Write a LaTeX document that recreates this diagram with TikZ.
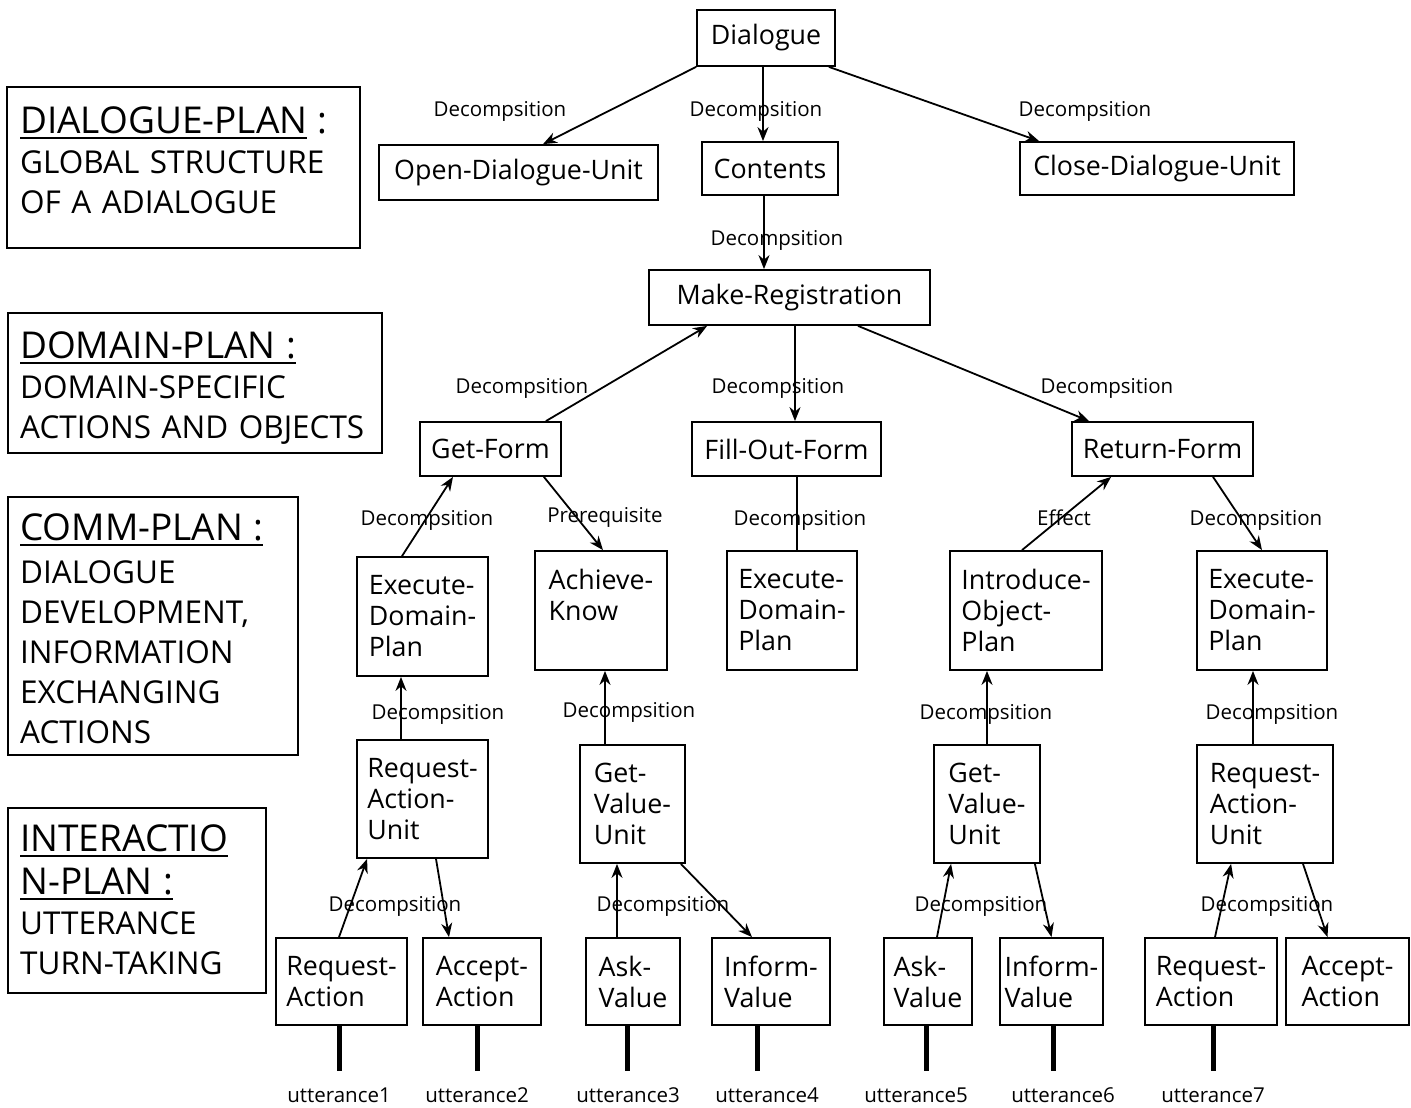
\documentclass[tikz,border=0pt]{standalone}
\usepackage{fontspec}
\setmainfont{Open Sans}
\usetikzlibrary{arrows.meta}
% underlined heading word with a heavier rule
\newcommand\planul[1]{\leavevmode\setbox0=\hbox{#1}\rlap{\rule[-6pt]{\wd0}{1.8pt}}\box0\relax}
\newcommand\plantitle[1]{{\fontsize{37}{40}\selectfont #1}}
\begin{document}
\begin{tikzpicture}[x=1pt,y=-1pt,
  box/.style={draw, line width=1.8pt, inner sep=0pt, align=left,
    font=\fontsize{26.8}{31}\selectfont},
  panel/.style={draw, line width=1.8pt, inner sep=0pt},
  ptext/.style={anchor=base west, inner sep=0pt, text width=400pt, align=left,
    font=\fontsize{31.5}{40}\selectfont},
  lbl/.style={anchor=base, inner sep=0pt, font=\fontsize{20.5}{24}\selectfont},
  arr/.style={line width=1.8pt, -{Stealth[length=14pt,width=11pt,inset=4.5pt]}},
  link/.style={line width=1.8pt},
  bar/.style={line width=5pt},
]
\useasboundingbox (0,0) rectangle (1411,1108);

% ---- legend panels on the left
\node[panel, minimum width=353pt, minimum height=161pt] (p1) at (183.5,167.5) {};
\node[panel, minimum width=374pt, minimum height=140pt] (p2) at (195,383) {};
\node[panel, minimum width=290pt, minimum height=258pt] (p3) at (153,626) {};
\node[panel, minimum width=258pt, minimum height=185pt] (p4) at (137,900.5) {};

\node[ptext] (t1) at (20,133) {\plantitle{\planul{DIALOGUE-PLAN} :}\\GLOBAL STRUCTURE\\OF A ADIALOGUE};
\node[ptext] (t2) at (20,358) {\plantitle{\planul{DOMAIN-PLAN :}}\\DOMAIN-SPECIFIC\\ACTIONS AND OBJECTS};
\node[ptext] (t3) at (20,540) {\plantitle{\planul{COMM-PLAN :}}\\[3pt]DIALOGUE\\DEVELOPMENT,\\INFORMATION\\EXCHANGING\\ACTIONS};
\node[ptext] (t4) at (20,851) {\plantitle{\planul{INTERACTIO}}\\[3pt]\plantitle{\planul{N-PLAN :}}\\UTTERANCE\\TURN-TAKING};

% ---- dialogue plan
\node[box, minimum width=138pt, minimum height=56pt] (dlg) at (766,38) {Dialogue};
\node[box, minimum width=279pt, minimum height=55pt] (odu) at (518.5,172.5) {Open-Dialogue-Unit};
\node[box, minimum width=136pt, minimum height=53pt] (cont) at (770,168.5) {Contents};
\node[box, minimum width=274pt, minimum height=53pt] (cdu) at (1157,168.5) {Close-Dialogue-Unit};

% ---- domain plan
\node[box, minimum width=281pt, minimum height=55pt] (mr) at (789.5,297.5) {Make-Registration};
\node[box, minimum width=141pt, minimum height=54pt] (gf) at (490.5,449) {Get-Form};
\node[box, minimum width=189pt, minimum height=54pt] (fof) at (786.5,449) {Fill-Out-Form};
\node[box, minimum width=181pt, minimum height=54pt] (rf) at (1162.5,449) {Return-Form};

% ---- communication plan
\node[box, minimum width=131pt, minimum height=119pt] (e1) at (422.5,616.5) {Execute-\\Domain-\\Plan};
\node[box, minimum width=132pt, minimum height=119pt] (ak) at (601,610.5) {Achieve-\\Know\\\mbox{}};
\node[box, minimum width=130pt, minimum height=119pt] (e2) at (792,610.5) {Execute-\\Domain-\\Plan};
\node[box, minimum width=152pt, minimum height=119pt] (iop) at (1026,610.5) {Introduce-\\Object-\\Plan};
\node[box, minimum width=130pt, minimum height=119pt] (e3) at (1262,610.5) {Execute-\\Domain-\\Plan};

\node[box, minimum width=131pt, minimum height=118pt] (rau1) at (422.5,799) {Request-\\Action-\\Unit};
\node[box, minimum width=105pt, minimum height=118pt] (gvu1) at (632.5,804) {Get-\\Value-\\Unit};
\node[box, minimum width=106pt, minimum height=118pt] (gvu2) at (987,804) {Get-\\Value-\\Unit};
\node[box, minimum width=136pt, minimum height=118pt] (rau2) at (1265,804) {Request-\\Action-\\Unit};

% ---- interaction plan
\node[box, minimum width=131pt, minimum height=87pt] (ra1) at (341.5,981.5) {Request-\\Action};
\node[box, minimum width=118pt, minimum height=87pt] (aa1) at (482,981.5) {Accept-\\Action};
\node[box, minimum width=94pt, minimum height=87pt] (av1) at (633,981.5) {Ask-\\Value};
\node[box, minimum width=118pt, minimum height=87pt] (iv1) at (771,981.5) {Inform-\\Value};
\node[box, minimum width=88pt, minimum height=87pt] (av2) at (928,981.5) {Ask-\\Value};
\node[box, minimum width=103pt, minimum height=87pt] (iv2) at (1051.5,981.5) {Inform-\\Value};
\node[box, minimum width=132pt, minimum height=87pt] (ra2) at (1211,981.5) {Request-\\Action};
\node[box, minimum width=123pt, minimum height=87pt] (aa2) at (1347.5,981.5) {Accept-\\Action};

% ---- utterances
\node[lbl] (u1) at (339,1102) {utterance1};
\node[lbl] (u2) at (477,1102) {utterance2};
\node[lbl] (u3) at (628,1102) {utterance3};
\node[lbl] (u4) at (767,1102) {utterance4};
\node[lbl] (u5) at (916,1102) {utterance5};
\node[lbl] (u6) at (1063,1102) {utterance6};
\node[lbl] (u7) at (1213,1102) {utterance7};

\draw[bar] ([xshift=-2.5pt]ra1.south) -- ++(0,45);
\draw[bar] ([xshift=-5pt]aa1.south) -- ++(0,45);
\draw[bar] ([xshift=-6pt]av1.south) -- ++(0,45);
\draw[bar] ([xshift=-14pt]iv1.south) -- ++(0,45);
\draw[bar] ([xshift=-2pt]av2.south) -- ++(0,45);
\draw[bar] ([xshift=1.5pt]iv2.south) -- ++(0,45);
\draw[bar] ([xshift=2pt]ra2.south) -- ++(0,45);

% ---- connectors
\draw[arr] (dlg.south west) -- ([xshift=24.5pt]odu.north);
\draw[arr] ([xshift=-3pt]dlg.south) -- ([xshift=-3pt]dlg.south |- cont.north);
\draw[arr] ([xshift=-7pt]dlg.south east) -- ([xshift=20pt]cdu.north west);
\draw[arr] ([xshift=-6pt]cont.south) -- ([xshift=-6pt]cont.south |- mr.north);

\draw[arr] ([xshift=-16pt]gf.north east) -- ([xshift=59pt]mr.south west);
\draw[arr] ([xshift=5.5pt]mr.south) -- ([xshift=5.5pt]mr.south |- fof.north);
\draw[arr] ([xshift=68.5pt]mr.south) -- ([xshift=18pt]rf.north west);

\draw[arr] ([xshift=-20.5pt]e1.north) -- ([xshift=-37.5pt]gf.south);
\draw[arr] ([xshift=-18pt]gf.south east) -- ([xshift=2pt]ak.north);
\draw[link] ([xshift=10.5pt]fof.south) -- ([xshift=10.5pt]fof.south |- e2.north);
\draw[arr] ([xshift=-4pt]iop.north) -- ([xshift=40pt]rf.south west);
\draw[arr] ([xshift=50.5pt]rf.south) -- (e3.north);

\draw[arr] ([xshift=-21.5pt]rau1.north) -- ([xshift=-21.5pt]rau1.north |- e1.south);
\draw[arr] ([xshift=-27.5pt]gvu1.north) -- ([xshift=-27.5pt]gvu1.north |- ak.south);
\draw[arr] (gvu2.north) -- (gvu2.north |- iop.south);
\draw[arr] ([xshift=-12pt]rau2.north) -- ([xshift=-12pt]rau2.north |- e3.south);

\draw[arr] ([xshift=-2.5pt]ra1.north) -- ([xshift=11pt]rau1.south west);
\draw[arr] ([xshift=13.5pt]rau1.south) -- ([xshift=-33pt]aa1.north);
\draw[arr] ([xshift=-16pt]av1.north) -- ([xshift=-16pt]av1.north |- gvu1.south);
\draw[arr] ([xshift=-5pt]gvu1.south east) -- ([xshift=-19pt]iv1.north);
\draw[arr] ([xshift=9pt]av2.north) -- ([xshift=18pt]gvu2.south west);
\draw[arr] ([xshift=-6pt]gvu2.south east) -- (iv2.north);
\draw[arr] ([xshift=4pt]ra2.north) -- ([xshift=35pt]rau2.south west);
\draw[arr] ([xshift=38pt]rau2.south) -- ([xshift=-20pt]aa2.north);

% ---- connector labels
\node[lbl] (l1) at (500,116) {Decompsition};
\node[lbl] (l2) at (756,116) {Decompsition};
\node[lbl] (l3) at (1085,116) {Decompsition};
\node[lbl] (l4) at (777,245) {Decompsition};
\node[lbl] (l5) at (522,393) {Decompsition};
\node[lbl] (l6) at (778,393) {Decompsition};
\node[lbl] (l7) at (1107,393) {Decompsition};
\node[lbl] (l8) at (427,525) {Decompsition};
\node[lbl] (l9) at (605,522) {Prerequisite};
\node[lbl] (l10) at (800,525) {Decompsition};
\node[lbl] (l11) at (1064,525) {Effect};
\node[lbl] (l12) at (1256,525) {Decompsition};
\node[lbl] (l13) at (438,719) {Decompsition};
\node[lbl] (l14) at (629,717) {Decompsition};
\node[lbl] (l15) at (986,719) {Decompsition};
\node[lbl] (l16) at (1272,719) {Decompsition};
\node[lbl] (l17) at (395,911) {Decompsition};
\node[lbl] (l18) at (663,911) {Decompsition};
\node[lbl] (l19) at (981,911) {Decompsition};
\node[lbl] (l20) at (1267,911) {Decompsition};
\end{tikzpicture}
\end{document}
